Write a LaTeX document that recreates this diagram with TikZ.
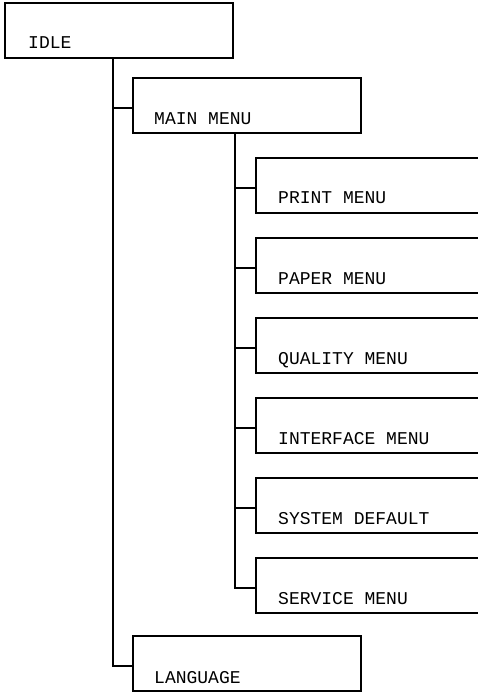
\documentclass[tikz,border=0pt]{standalone}
\usepackage{fontspec}
\newfontfamily\menufont{Liberation Mono}
\usetikzlibrary{positioning}
\tikzset{
  menubox/.style = {rectangle, draw=black, line width=2pt, inner sep=0pt,
    minimum width=228pt, minimum height=55pt},
  subbox/.style = {menubox, minimum width=260pt, overlay},% runs off the right edge
  menutext/.style = {anchor=base west, inner sep=0pt,
    font=\menufont\fontsize{18}{20}\selectfont},
  branch/.style = {draw=black, line width=2pt}
}
\begin{document}
\begin{tikzpicture}[x=1pt,y=-1pt]
\useasboundingbox (0,0) rectangle (478,692);
\clip (0,0) rectangle (478,692);
\node [menubox] (idle) at (119,30.5) {};
\node [menutext] (idle-t) at ([xshift=24pt,yshift=10pt]idle.south west) {IDLE};
\node [menubox] (main) at (247,105.5) {};
\node [menutext] (main-t) at ([xshift=22pt,yshift=9pt]main.south west) {MAIN MENU};
\node [menubox] (lang) at (247,663.5) {};
\node [menutext] (lang-t) at ([xshift=22pt,yshift=9pt]lang.south west) {LANGUAGE};

\coordinate (stem) at ([xshift=-6pt]idle.south);
\coordinate (substem) at ([xshift=-12pt]main.south);

\foreach \nm/\lbl [count=\i from 0] in {print/PRINT MENU, paper/PAPER MENU,
    quality/QUALITY MENU, iface/INTERFACE MENU, sysdef/SYSTEM DEFAULT,
    service/SERVICE MENU} {
  \node [subbox, anchor=north west] (\nm) at (255,{157+80*\i}) {};
  \node [menutext] (\nm-t) at ([xshift=23pt,yshift=10pt]\nm.south west) {\lbl};
  \draw [branch] ([yshift=-2.5pt]\nm.west) -| (substem);
}

\draw [branch] (stem) |- ([yshift=-2.5pt]lang.west);
\draw [branch] ([yshift=-2.5pt]main.west) -| (stem);
\end{tikzpicture}
\end{document}
